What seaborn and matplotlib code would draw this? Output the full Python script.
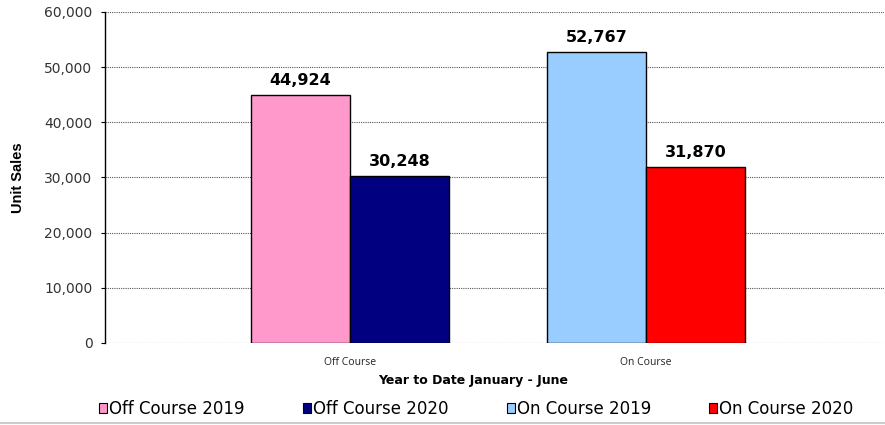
import pandas as pd
import matplotlib.pyplot as plt
import seaborn as sns
from matplotlib.patches import Patch
from matplotlib.ticker import FuncFormatter
from matplotlib.lines import Line2D

# --- datos ---
categories = ['Off Course', 'On Course']
years = ['2019', '2020']
sales_2019 = [44924, 52767]
sales_2020 = [30248, 31870]
series_labels = ['Off Course 2019', 'Off Course 2020', 'On Course 2019', 'On Course 2020']
# colores por categoria: [2019, 2020]
bar_colors = {'Off Course': ['#FF99CC', '#000080'], 'On Course': ['#99CCFF', '#FF0000']}

df = pd.DataFrame({
    'Category': categories * 2,
    'Year': [years[0]] * 2 + [years[1]] * 2,
    'Sales': sales_2019 + sales_2020,
})

sns.set_theme(style='white')
plt.rcParams['font.family'] = ['DejaVu Sans']
plt.rcParams.update({'text.color': 'black', 'axes.labelcolor': 'black'})

fig = plt.figure(figsize=(8.85, 4.25), dpi=100)
ax = fig.add_axes([0.1186, 0.193, 0.880, 0.779])

sns.barplot(data=df, x='Category', y='Sales', hue='Year', hue_order=years,
            order=categories, width=0.67, dodge=True, legend=False,
            edgecolor='black', linewidth=1.0, saturation=1, ax=ax)

# recolorear cada barra segun su serie
for yi, cont in enumerate(ax.containers):
    for ci, patch in enumerate(cont.patches):
        patch.set_facecolor(bar_colors[categories[ci]][yi])
        patch.set_zorder(3)
    ax.bar_label(cont, labels=[f'{v:,.0f}' for v in cont.datavalues],
                 padding=5, fontsize=11.5, fontweight='bold', color='black')

ax.set_ylim(0, 60000)
ax.set_xlim(-0.828, 1.804)
ax.set_yticks(range(0, 60001, 10000))
ax.yaxis.set_major_formatter(FuncFormatter(lambda v, p: f'{v:,.0f}'))
ax.grid(axis='y', linestyle=(0, (1, 1)), color='#555555', linewidth=0.8, zorder=0)
ax.set_axisbelow(True)

for s in ['top', 'right', 'bottom']:
    ax.spines[s].set_visible(False)
ax.spines['left'].set_color('black')
ax.spines['left'].set_linewidth(1.0)
ax.tick_params(axis='y', left=True, length=3, width=0.8, color='black',
               labelsize=10, labelcolor='#333333', pad=6)
ax.tick_params(axis='x', bottom=False, pad=4, labelcolor='#222222')
for lbl in ax.get_xticklabels():
    lbl.set_fontfamily('Open Sans')
    lbl.set_fontsize(7.5)

ax.set_xlabel('Year to Date January - June', fontsize=9, fontweight='bold')
ax.xaxis.set_label_coords(0.473, -0.095)
ax.set_ylabel('Unit Sales', fontsize=10.5, fontweight='bold', family='Liberation Sans')
ax.yaxis.set_label_coords(-0.103, 0.5)

handles = [Patch(facecolor=bar_colors[c][y], edgecolor='black', linewidth=0.8)
           for c in categories for y in range(2)]
fig.legend(handles, series_labels, ncol=4, loc='center', bbox_to_anchor=(0.538, 0.038),
           frameon=False, fontsize=12, handlelength=0.5, handleheight=0.5,
           handletextpad=0.1, columnspacing=3.5, borderpad=0)

fig.add_artist(Line2D([0, 1], [0.004, 0.004], color='#cccccc', linewidth=1.5))

plt.savefig('out.png', dpi=100)
